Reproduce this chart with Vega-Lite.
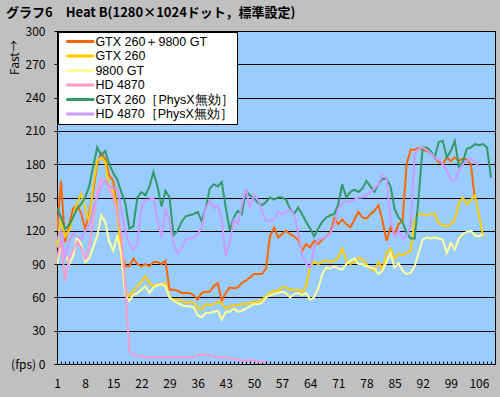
{
  "$schema": "https://vega.github.io/schema/vega-lite/v6.json",
  "width": 438,
  "height": 333,
  "autosize": "none",
  "padding": {"left": 57, "top": 31, "right": 5, "bottom": 33},
  "background": "#c0c0c0",
  "title": {
    "text": "グラフ6　Heat B(1280×1024ドット，標準設定)",
    "anchor": "start",
    "frame": "group",
    "dx": -51,
    "dy": 5,
    "offset": 10,
    "font": "Noto Sans CJK JP",
    "fontSize": 13,
    "fontWeight": "bold",
    "color": "black"
  },
  "data": {
    "values": [
      {"x":1,"a":120,"b":105,"c":90,"d":95,"e":141,"f":112},
      {"x":2,"a":165,"b":130,"c":108,"d":112,"e":132,"f":120},
      {"x":3,"a":110,"b":115,"c":100,"d":75,"e":122,"f":95},
      {"x":4,"a":125,"b":120,"c":90,"d":95,"e":125,"f":110},
      {"x":5,"a":140,"b":132,"c":97,"d":103,"e":132,"f":118},
      {"x":6,"a":143,"b":145,"c":115,"d":110,"e":140,"f":115},
      {"x":7,"a":136,"b":153,"c":108,"d":105,"e":144,"f":112},
      {"x":8,"a":122,"b":140,"c":92,"d":95,"e":150,"f":120},
      {"x":9,"a":135,"b":128,"c":95,"d":105,"e":160,"f":125},
      {"x":10,"a":155,"b":160,"c":105,"d":130,"e":178,"f":140},
      {"x":11,"a":180,"b":183,"c":115,"d":155,"e":195,"f":150},
      {"x":12,"a":190,"b":186,"c":134,"d":167,"e":188,"f":160},
      {"x":13,"a":185,"b":182,"c":128,"d":166,"e":192,"f":165},
      {"x":14,"a":170,"b":160,"c":110,"d":158,"e":180,"f":160},
      {"x":15,"a":165,"b":156,"c":102,"d":150,"e":172,"f":158},
      {"x":16,"a":140,"b":138,"c":116,"d":137,"e":166,"f":158},
      {"x":17,"a":100,"b":95,"c":99,"d":117,"e":155,"f":140},
      {"x":18,"a":88,"b":66,"c":62,"d":70,"e":145,"f":120},
      {"x":19,"a":88,"b":61,"c":57,"d":12,"e":122,"f":108},
      {"x":20,"a":95,"b":66,"c":62,"d":8,"e":124,"f":103},
      {"x":21,"a":90,"b":70,"c":64,"d":7,"e":150,"f":108},
      {"x":22,"a":88,"b":74,"c":67,"d":7,"e":155,"f":140},
      {"x":23,"a":90,"b":79,"c":70,"d":6,"e":152,"f":148},
      {"x":24,"a":88,"b":73,"c":64,"d":6,"e":160,"f":148},
      {"x":25,"a":92,"b":70,"c":69,"d":6,"e":173,"f":150},
      {"x":26,"a":92,"b":72,"c":71,"d":6,"e":160,"f":130},
      {"x":27,"a":90,"b":71,"c":72,"d":6,"e":142,"f":114},
      {"x":28,"a":93,"b":73,"c":70,"d":6,"e":156,"f":140},
      {"x":29,"a":67,"b":60,"c":60,"d":6,"e":150,"f":128},
      {"x":30,"a":67,"b":58,"c":57,"d":6,"e":116,"f":108},
      {"x":31,"a":66,"b":58,"c":55,"d":6,"e":120,"f":100},
      {"x":32,"a":64,"b":57,"c":53,"d":6,"e":128,"f":104},
      {"x":33,"a":64,"b":55,"c":52,"d":6,"e":133,"f":112},
      {"x":34,"a":64,"b":56,"c":52,"d":6,"e":134,"f":113},
      {"x":35,"a":62,"b":55,"c":51,"d":6,"e":135,"f":114},
      {"x":36,"a":58,"b":51,"c":44,"d":8,"e":137,"f":117},
      {"x":37,"a":64,"b":49,"c":42,"d":8,"e":129,"f":123},
      {"x":38,"a":65,"b":54,"c":46,"d":8,"e":140,"f":140},
      {"x":39,"a":65,"b":53,"c":46,"d":8,"e":158,"f":147},
      {"x":40,"a":70,"b":54,"c":47,"d":7,"e":162,"f":140},
      {"x":41,"a":73,"b":56,"c":48,"d":6,"e":160,"f":143},
      {"x":42,"a":57,"b":55,"c":40,"d":6,"e":164,"f":130},
      {"x":43,"a":64,"b":50,"c":47,"d":6,"e":141,"f":97},
      {"x":44,"a":69,"b":52,"c":47,"d":5,"e":120,"f":110},
      {"x":45,"a":68,"b":53,"c":50,"d":5,"e":132,"f":130},
      {"x":46,"a":69,"b":53,"c":47,"d":4,"e":138,"f":126},
      {"x":47,"a":73,"b":54,"c":48,"d":3,"e":135,"f":143},
      {"x":48,"a":75,"b":54,"c":50,"d":3,"e":156,"f":158},
      {"x":49,"a":78,"b":55,"c":52,"d":4,"e":152,"f":141},
      {"x":50,"a":81,"b":56,"c":54,"d":3,"e":150,"f":152},
      {"x":51,"a":81,"b":56,"c":54,"d":2,"e":145,"f":148},
      {"x":52,"a":81,"b":58,"c":55,"d":2,"e":143,"f":138},
      {"x":53,"a":86,"b":61,"c":60,"d":2,"e":146,"f":129},
      {"x":54,"a":115,"b":64,"c":62,"d":null,"e":150,"f":129},
      {"x":55,"a":123,"b":66,"c":63,"d":null,"e":148,"f":130},
      {"x":56,"a":114,"b":66,"c":64,"d":null,"e":150,"f":137},
      {"x":57,"a":117,"b":69,"c":65,"d":null,"e":150,"f":135},
      {"x":58,"a":120,"b":69,"c":64,"d":null,"e":148,"f":137},
      {"x":59,"a":117,"b":67,"c":60,"d":null,"e":140,"f":139},
      {"x":60,"a":115,"b":67,"c":63,"d":null,"e":135,"f":135},
      {"x":61,"a":112,"b":67,"c":64,"d":null,"e":141,"f":118},
      {"x":62,"a":102,"b":65,"c":62,"d":null,"e":135,"f":98},
      {"x":63,"a":108,"b":70,"c":64,"d":null,"e":128,"f":90},
      {"x":64,"a":105,"b":88,"c":58,"d":null,"e":122,"f":87},
      {"x":65,"a":111,"b":92,"c":60,"d":null,"e":115,"f":105},
      {"x":66,"a":108,"b":90,"c":68,"d":null,"e":122,"f":112},
      {"x":67,"a":112,"b":92,"c":81,"d":null,"e":128,"f":113},
      {"x":68,"a":115,"b":93,"c":87,"d":null,"e":132,"f":115},
      {"x":69,"a":118,"b":92,"c":86,"d":null,"e":134,"f":117},
      {"x":70,"a":131,"b":93,"c":88,"d":null,"e":135,"f":126},
      {"x":71,"a":126,"b":96,"c":86,"d":null,"e":144,"f":140},
      {"x":72,"a":130,"b":104,"c":85,"d":null,"e":162,"f":145},
      {"x":73,"a":126,"b":93,"c":90,"d":null,"e":150,"f":147},
      {"x":74,"a":123,"b":90,"c":93,"d":null,"e":155,"f":146},
      {"x":75,"a":130,"b":92,"c":95,"d":null,"e":157,"f":148},
      {"x":76,"a":137,"b":96,"c":90,"d":null,"e":155,"f":150},
      {"x":77,"a":132,"b":94,"c":90,"d":null,"e":158,"f":150},
      {"x":78,"a":131,"b":90,"c":88,"d":null,"e":165,"f":152},
      {"x":79,"a":135,"b":86,"c":87,"d":null,"e":160,"f":155},
      {"x":80,"a":138,"b":84,"c":86,"d":null,"e":155,"f":158},
      {"x":81,"a":143,"b":92,"c":81,"d":null,"e":162,"f":162},
      {"x":82,"a":129,"b":85,"c":84,"d":null,"e":167,"f":171},
      {"x":83,"a":111,"b":100,"c":92,"d":null,"e":167,"f":168},
      {"x":84,"a":123,"b":104,"c":100,"d":null,"e":160,"f":130},
      {"x":85,"a":117,"b":95,"c":87,"d":null,"e":140,"f":115},
      {"x":86,"a":126,"b":99,"c":91,"d":null,"e":132,"f":120},
      {"x":87,"a":129,"b":98,"c":84,"d":null,"e":128,"f":113},
      {"x":88,"a":180,"b":100,"c":81,"d":null,"e":118,"f":115},
      {"x":89,"a":193,"b":102,"c":82,"d":null,"e":113,"f":125},
      {"x":90,"a":193,"b":130,"c":88,"d":null,"e":113,"f":189},
      {"x":91,"a":195,"b":135,"c":100,"d":null,"e":150,"f":194},
      {"x":92,"a":193,"b":135,"c":112,"d":null,"e":195,"f":195},
      {"x":93,"a":192,"b":134,"c":114,"d":null,"e":195,"f":193},
      {"x":94,"a":190,"b":135,"c":113,"d":null,"e":192,"f":190},
      {"x":95,"a":186,"b":135,"c":114,"d":null,"e":186,"f":186},
      {"x":96,"a":182,"b":127,"c":113,"d":null,"e":200,"f":184},
      {"x":97,"a":180,"b":125,"c":112,"d":null,"e":201,"f":180},
      {"x":98,"a":186,"b":124,"c":100,"d":null,"e":186,"f":174},
      {"x":99,"a":183,"b":126,"c":109,"d":null,"e":192,"f":166},
      {"x":100,"a":186,"b":130,"c":103,"d":null,"e":201,"f":165},
      {"x":101,"a":183,"b":145,"c":113,"d":null,"e":178,"f":174},
      {"x":102,"a":185,"b":150,"c":117,"d":null,"e":182,"f":180},
      {"x":103,"a":184,"b":144,"c":119,"d":null,"e":194,"f":183},
      {"x":104,"a":180,"b":148,"c":120,"d":null,"e":195,"f":185},
      {"x":105,"a":148,"b":152,"c":116,"d":null,"e":198,"f":182},
      {"x":106,"a":null,"b":135,"c":115,"d":null,"e":197,"f":178},
      {"x":107,"a":null,"b":115,"c":117,"d":null,"e":198,"f":null},
      {"x":108,"a":null,"b":null,"c":null,"d":null,"e":195,"f":null},
      {"x":109,"a":null,"b":null,"c":null,"d":null,"e":168,"f":null}
    ]
  },
  "transform": [{"fold": ["a", "b", "c", "d", "e", "f"], "as": ["series", "fps"]}],
  "mark": {"type": "line", "strokeWidth": 2, "clip": true},
  "encoding": {
    "x": {
      "field": "x",
      "type": "quantitative",
      "scale": {"domain": [1, 110], "nice": false, "zero": false},
      "axis": {
        "values": [1,2,3,4,5,6,7,8,9,10,11,12,13,14,15,16,17,18,19,20,21,22,23,24,25,26,27,28,29,30,31,32,33,34,35,36,37,38,39,40,41,42,43,44,45,46,47,48,49,50,51,52,53,54,55,56,57,58,59,60,61,62,63,64,65,66,67,68,69,70,71,72,73,74,75,76,77,78,79,80,81,82,83,84,85,86,87,88,89,90,91,92,93,94,95,96,97,98,99,100,101,102,103,104,105,106,107,108,109,110],
        "labelExpr": "(datum.value - 1) % 7 == 0 ? datum.label : ''",
        "labelOverlap": false,
        "labelFlush": false,
        "grid": false,
        "domain": false,
        "ticks": true,
        "tickSize": -3,
        "tickColor": "black",
        "labelPadding": 17,
        "labelFont": "Noto Sans CJK JP",
        "labelFontSize": 12,
        "labelColor": "black",
        "title": null
      }
    },
    "y": {
      "field": "fps",
      "type": "quantitative",
      "scale": {"domain": [0, 300], "nice": false},
      "axis": {
        "values": [0, 30, 60, 90, 120, 150, 180, 210, 240, 270, 300],
        "labelExpr": "datum.value == 0 ? '(fps)  0' : datum.label",
        "grid": true,
        "gridColor": "black",
        "gridOpacity": 1,
        "gridWidth": 1,
        "domain": false,
        "tickSize": 3,
        "tickColor": "black",
        "labelPadding": 9,
        "labelFont": "Noto Sans CJK JP",
        "labelFontSize": 12,
        "labelColor": "black",
        "title": "Fast→",
        "titleFont": "Noto Sans CJK JP",
        "titleFontSize": 12,
        "titleFontWeight": "normal",
        "titleColor": "black",
        "titleAngle": -90,
        "titleX": -43,
        "titleY": 26,
        "titleAlign": "center",
        "titleBaseline": "middle"
      }
    },
    "color": {
      "field": "series",
      "type": "nominal",
      "scale": {
        "domain": ["a", "b", "c", "d", "e", "f"],
        "range": ["#ff6600", "#ffcc00", "#ffff99", "#ff99cc", "#339966", "#cc99ff"]
      },
      "legend": {
        "orient": "none",
        "legendX": 1,
        "legendY": 1,
        "title": null,
        "labelExpr": "{'a':'GTX 260＋9800 GT','b':'GTX 260','c':'9800 GT','d':'HD 4870','e':'GTX 260［PhysX無効］','f':'HD 4870［PhysX無効］'}[datum.value]",
        "fillColor": "white",
        "strokeColor": "black",
        "padding": 3,
        "rowPadding": 1.5,
        "symbolType": "M-2.8,0H2.8",
        "symbolSize": 100,
        "symbolStrokeWidth": 3,
        "symbolOffset": 12.8,
        "labelOffset": 8.6,
        "labelFont": "Liberation Sans",
        "labelFontSize": 12.5,
        "labelColor": "black",
        "labelLimit": 300
      }
    }
  },
  "config": {
    "font": "Noto Sans CJK JP",
    "view": {"fill": "#99ccff", "stroke": "black", "strokeWidth": 1}
  }
}
